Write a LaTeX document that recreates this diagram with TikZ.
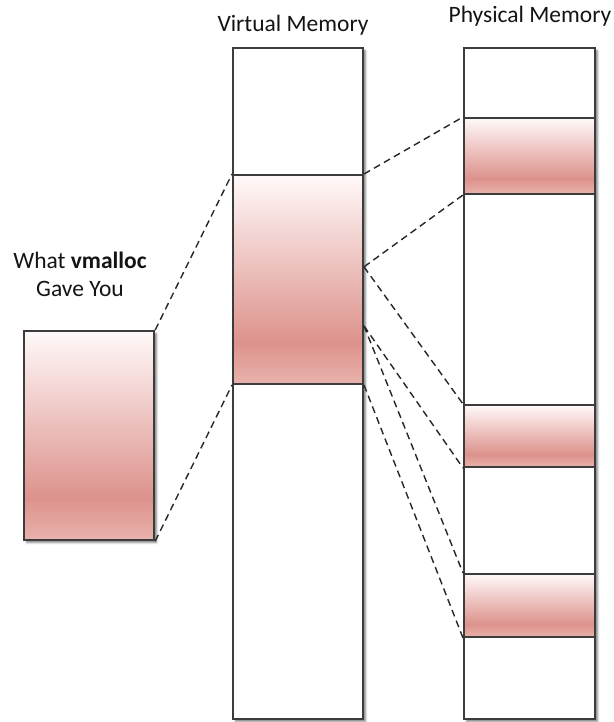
\documentclass[tikz,border=0pt]{standalone}
\usepackage{fontspec}
\setmainfont{Carlito}
\usetikzlibrary{shadows.blur,calc}
\definecolor{edge}{RGB}{60,60,60}
\definecolor{pinkdeep}{RGB}{221,146,140}
\definecolor{pinklow}{RGB}{233,178,172}
\definecolor{pinktop}{RGB}{255,249,249}
\pgfdeclareverticalshading{memgrad}{100bp}{color(0bp)=(pinklow); color(25bp)=(pinklow); color(35bp)=(pinkdeep); color(75bp)=(pinktop); color(100bp)=(pinktop)}
\tikzset{
  memshadow/.style={blur shadow={shadow xshift=2.5pt, shadow yshift=-2.5pt, shadow blur steps=5, shadow blur extra rounding=0pt, shadow opacity=50}},
  colbox/.style={draw=edge, line width=2.2pt, fill=white, rectangle, inner sep=0pt, anchor=north west, memshadow},
  pinkbox/.style={draw=edge, line width=2pt, shading=memgrad, rectangle, inner sep=0pt, anchor=north west},
  mapline/.style={draw=black!85, dash pattern=on 7pt off 4.5pt, line width=1.4pt},
  lbl/.style={font=\fontsize{23.5}{28}\selectfont, text=black!92, inner sep=0pt}
}
\begin{document}
\begin{tikzpicture}[x=1pt,y=-1pt]
\useasboundingbox (0,0) rectangle (613,722);
% titles
\node[lbl, anchor=base] (vtitle) at (293,32) {Virtual Memory};
\node[lbl, anchor=base] (ptitle) at (530,23) {Physical Memory};
\node[lbl, align=center, anchor=center] (gtitle) at (80,274) {What \textbf{vmalloc}\\Gave You};
% left box
\node[pinkbox, memshadow, line width=2.2pt, minimum width=130pt, minimum height=209pt] (gave) at (23,330) {};
% virtual column
\node[colbox, minimum width=130pt, minimum height=671pt] (vcol) at (232,47) {};
\node[pinkbox, minimum width=130pt, minimum height=209pt] (vpink) at (232,174) {};
% physical column
\node[colbox, minimum width=131pt, minimum height=671pt] (pcol) at (463,47) {};
\node[pinkbox, minimum width=131pt, minimum height=76pt] (p1) at (463,117) {};
\node[pinkbox, minimum width=131pt, minimum height=62pt] (p2) at (463,404) {};
\node[pinkbox, minimum width=131pt, minimum height=63pt] (p3) at (463,573) {};
% anchor points on the virtual region
\coordinate (vA) at ($(vpink.north east)!0.44!(vpink.south east)$);
\coordinate (vB) at ($(vpink.north east)!0.72!(vpink.south east)$);
% mappings
\draw[mapline] (gave.north east) -- (vpink.north west);
\draw[mapline] (gave.south east) -- (vpink.south west);
\draw[mapline] (vpink.north east) -- (p1.north west);
\draw[mapline] (vA) -- (p1.south west);
\draw[mapline] (vA) -- (p2.north west);
\draw[mapline] (vB) -- (p2.south west);
\draw[mapline] (vB) -- (p3.north west);
\draw[mapline] (vpink.south east) -- (p3.south west);
\end{tikzpicture}
\end{document}
